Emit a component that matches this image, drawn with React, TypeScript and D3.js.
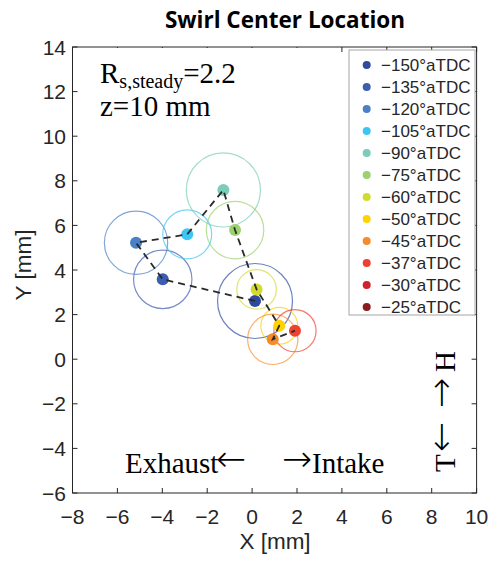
import React from 'react';
import * as d3 from 'd3';

// swirl centre per crank angle (mm); last two angles have no point in the plot
const angles = [-150, -135, -120, -105, -90, -75, -60, -50, -45, -37, -30, -25];
const centerX = [0.13, -3.98, -5.17, -2.89, -1.28, -0.76, 0.2, 1.21, 0.92, 1.91, null, null];
const centerY = [2.61, 3.58, 5.22, 5.6, 7.59, 5.79, 3.13, 1.5, 0.89, 1.28, null, null];
const spread = [1.67, 1.3, 1.41, 1.09, 1.65, 1.28, 0.88, 0.82, 1.12, 0.94, null, null];
const colors = [
  '#2f4a9c', '#3d5dae', '#4a80c4', '#3dc6f2', '#7bcdbb', '#9dd06f',
  '#d2dc2e', '#ffd200', '#f68b2a', '#ee4130', '#d0222f', '#8a1b1e',
];
const xTicks = [-8, -6, -4, -2, 0, 2, 4, 6, 8, 10];
const yTicks = [-6, -4, -2, 0, 2, 4, 6, 8, 10, 12, 14];

const W = 490;
const H = 562;
const margin = { top: 47, right: 13.4, bottom: 69, left: 72.5 };

const fmt = (v: number) => (v < 0 ? '\u2212' + Math.abs(v) : String(v));

export default function App() {
  const x = d3.scaleLinear().domain([-8, 10]).range([margin.left, W - margin.right]);
  const y = d3.scaleLinear().domain([-6, 14]).range([H - margin.bottom, margin.top]);

  const pts = angles
    .map((a, i) => ({ a, i, cx: centerX[i], cy: centerY[i], r: spread[i], c: colors[i] }))
    .filter((d) => d.cx != null);

  const line = d3
    .line<{ cx: number | null; cy: number | null }>()
    .x((d) => x(d.cx as number))
    .y((d) => y(d.cy as number));

  const x0 = x(-8), x1 = x(10), y0 = y(-6), y1 = y(14);
  const tk = 5;
  const sans = 'Liberation Sans, Arial, sans-serif';
  const serif = 'Liberation Serif, Times New Roman, serif';
  const arrowFont = 'DejaVu Sans, sans-serif';

  return (
    <svg width={W} height={H} style={{ position: 'absolute', left: 0, top: 0, background: '#fff' }}>
      <rect width={W} height={H} fill="#fff" />
      <text x={285} y={28} textAnchor="middle" fontFamily="Open Sans, sans-serif" fontWeight="bold" fontSize={22.5}>
        Swirl Center Location
      </text>

      {/* ticks, inside, all four sides */}
      <g stroke="#262626" strokeWidth={1}>
        {xTicks.map((t) => (
          <g key={'x' + t}>
            <line x1={x(t)} x2={x(t)} y1={y0} y2={y0 - tk} />
            <line x1={x(t)} x2={x(t)} y1={y1} y2={y1 + tk} />
          </g>
        ))}
        {yTicks.map((t) => (
          <g key={'y' + t}>
            <line x1={x0} x2={x0 + tk} y1={y(t)} y2={y(t)} />
            <line x1={x1} x2={x1 - tk} y1={y(t)} y2={y(t)} />
          </g>
        ))}
      </g>

      {/* spread circles, markers, then dashed path on top */}
      <g fill="none" strokeWidth={1.2}>
        {pts.map((d) => (
          <circle key={'c' + d.a} cx={x(d.cx as number)} cy={y(d.cy as number)}
            r={x(d.r as number) - x(0)} stroke={d.c} strokeOpacity={0.7} />
        ))}
      </g>
      {pts.map((d) => (
        <circle key={'m' + d.a} cx={x(d.cx as number)} cy={y(d.cy as number)} r={6} fill={d.c} />
      ))}
      <path d={line(pts) || ''} fill="none" stroke="#2a2a2a" strokeWidth={1.8} strokeDasharray="7,5" />

      {/* textbox with white background (hides the top ticks behind it) */}
      <rect x={79} y={48} width={225} height={78} fill="#fff" />
      <text x={100} y={83} fontFamily={serif} fontSize={29}>
        R<tspan fontSize={20} dy={5}>s,steady</tspan>
        <tspan dy={-5}>=2.2</tspan>
      </text>
      <text x={100} y={116} fontFamily={serif} fontSize={29}>z=10 mm</text>

      {/* intake / exhaust and head / top direction notes */}
      <text x={125} y={473} fontFamily={serif} fontSize={29}>Exhaust</text>
      <text x={216} y={471} fontFamily={arrowFont} fontSize={36} fontWeight={300}>{'\u2190'}</text>
      <text x={282} y={471} fontFamily={arrowFont} fontSize={36} fontWeight={300}>{'\u2192'}</text>
      <text x={312} y={473} fontFamily={serif} fontSize={29}>Intake</text>

      <text transform="translate(455,472) rotate(-90)" fontFamily={serif} fontSize={29}>T</text>
      <text transform="translate(453,452) rotate(-90)" fontFamily={arrowFont} fontSize={36} fontWeight={300}>{'\u2190'}</text>
      <text transform="translate(453,408) rotate(-90)" fontFamily={arrowFont} fontSize={36} fontWeight={300}>{'\u2192'}</text>
      <text transform="translate(455,372) rotate(-90)" fontFamily={serif} fontSize={29}>H</text>

      {/* axes box */}
      <rect x={x0} y={y1} width={x1 - x0} height={y0 - y1} fill="none" stroke="#262626" strokeWidth={1} />

      {/* tick labels */}
      <g fontFamily={sans} fontSize={21} fill="#262626">
        {xTicks.map((t) => (
          <text key={'xl' + t} x={x(t)} y={524} textAnchor="middle">{fmt(t)}</text>
        ))}
        {yTicks.map((t) => (
          <text key={'yl' + t} x={66} y={y(t) + 7.5} textAnchor="end">{fmt(t)}</text>
        ))}
      </g>
      <text x={275} y={549} textAnchor="middle" fontFamily={sans} fontSize={22.5} fill="#262626">X [mm]</text>
      <text transform={`translate(31,${(y0 + y1) / 2 - 5}) rotate(-90)`} textAnchor="middle"
        fontFamily={sans} fontSize={22.5} fill="#262626">Y [mm]</text>

      {/* legend */}
      <g>
        <rect x={349} y={50} width={126} height={265} fill="#fff" stroke="#a6a6a6" strokeWidth={1} />
        {angles.map((a, i) => (
          <g key={'lg' + a} transform={`translate(0,${65 + i * 22})`}>
            <circle cx={366.7} cy={0} r={4} fill={colors[i]} />
            <text x={381} y={6} fontFamily={sans} fontSize={17} fill="#262626">
              {fmt(a)}°aTDC
            </text>
          </g>
        ))}
      </g>
    </svg>
  );
}
